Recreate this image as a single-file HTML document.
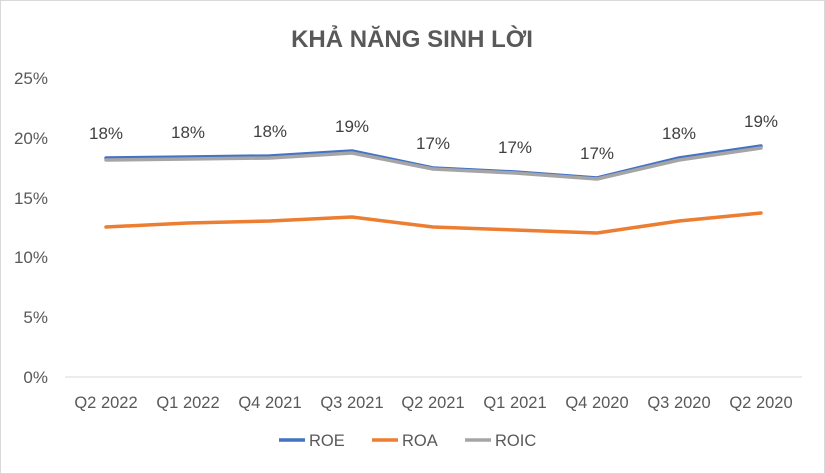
<!DOCTYPE html>
<html><head><meta charset="utf-8"><style>
body{margin:0;background:#fff}
svg{display:block;font-family:"Liberation Sans","Noto Sans CJK JP",sans-serif}
</style></head><body>
<svg width="825" height="474" viewBox="0 0 825 474">
<rect x="0.5" y="0.5" width="824" height="473" fill="#fff" stroke="#d9d9d9"/>
<text x="412" y="47" text-anchor="middle" font-size="24" font-weight="bold" fill="#595959">KHẢ NĂNG SINH LỜI</text>
<g font-size="17" fill="#595959" text-anchor="end">
<text x="48" y="84">25%</text><text x="48" y="144">20%</text><text x="48" y="204">15%</text>
<text x="48" y="263">10%</text><text x="48" y="323">5%</text><text x="48" y="383">0%</text>
</g>
<line x1="65" y1="377" x2="802" y2="377" stroke="#d9d9d9"/>
<g font-size="16.5" fill="#595959" text-anchor="middle">
<text x="106" y="408">Q2 2022</text><text x="188" y="408">Q1 2022</text><text x="270" y="408">Q4 2021</text>
<text x="352" y="408">Q3 2021</text><text x="433" y="408">Q2 2021</text><text x="515" y="408">Q1 2021</text>
<text x="597" y="408">Q4 2020</text><text x="679" y="408">Q3 2020</text><text x="761" y="408">Q2 2020</text>
</g>
<g fill="none" stroke-width="3.5" stroke-linejoin="round" stroke-linecap="round">
<polyline stroke="#ed7d31" points="106,227 188,223 270,221 352,217 433,227 515,230 597,233 679,221 761,213"/>
<polyline stroke="#4472c4" points="106,158 188,157 270,156 352,151 433,168 515,172 597,178 679,158 761,146"/>
<polyline stroke="#a5a5a5" points="106,160 188,159 270,158 352,153 433,169 515,173 597,179 679,160 761,148"/>
</g>
<g font-size="17" fill="#404040" text-anchor="middle">
<text x="106" y="139">18%</text><text x="188" y="138">18%</text><text x="270" y="137">18%</text>
<text x="352" y="132">19%</text><text x="433" y="149">17%</text><text x="515" y="153">17%</text>
<text x="597" y="159">17%</text><text x="679" y="139">18%</text><text x="761" y="127">19%</text>
</g>
<g font-size="16.5" fill="#595959">
<line x1="279" y1="440" x2="305" y2="440" stroke="#4472c4" stroke-width="3.5"/><text x="309" y="446">ROE</text>
<line x1="372" y1="440" x2="398" y2="440" stroke="#ed7d31" stroke-width="3.5"/><text x="402" y="446">ROA</text>
<line x1="465" y1="440" x2="491" y2="440" stroke="#a5a5a5" stroke-width="3.5"/><text x="495" y="446">ROIC</text>
</g>
</svg>
</body></html>
